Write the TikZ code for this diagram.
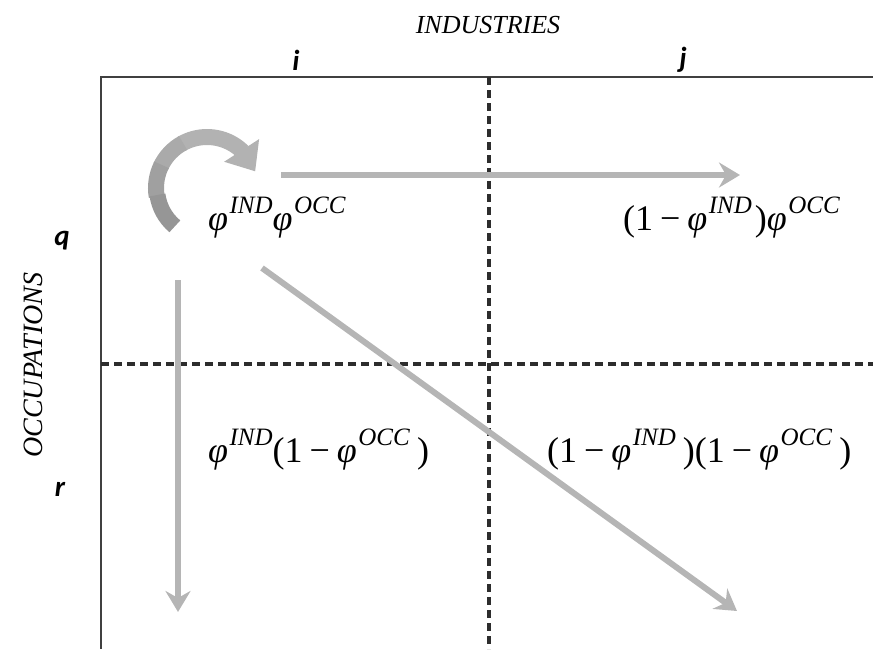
\documentclass[tikz,border=0pt]{standalone}
\usepackage{fontspec}
\setmainfont{Liberation Serif}
\newfontfamily\labfont{Carlito}
\usetikzlibrary{arrows.meta,bending,calc}
\definecolor{arrowgray}{RGB}{181,181,181}
\definecolor{curveA}{RGB}{150,150,150}
\definecolor{curveB}{RGB}{160,160,160}
\definecolor{curveC}{RGB}{170,170,170}
\definecolor{curveD}{RGB}{178,178,178}
\definecolor{linegray}{RGB}{64,64,64}
\definecolor{dashgray}{RGB}{45,45,45}
\newcommand\phsup[1]{\textit{φ}\kern1.5pt\raisebox{17pt}{\fontsize{25}{27}\selectfont\textit{#1}}}
\newcommand\minusx{\hspace{7pt}−\hspace{7pt}}
\begin{document}
\begin{tikzpicture}[x=1pt,y=-1pt,
  frame/.style={draw=linegray,line width=2.2pt},
  divider/.style={draw=dashgray,line width=3.4pt,dash pattern=on 8pt off 5pt},
  flow/.style={draw=arrowgray,line width=6pt,-{Stealth[length=21pt,width=25pt,inset=7pt]}},
  curveseg/.style={line width=16pt},
  formula/.style={inner sep=0pt,anchor=base west,font=\fontsize{36}{42}\selectfont},
  axis/.style={inner sep=0pt,font=\fontsize{26}{30}\selectfont\itshape},
  idx/.style={inner sep=0pt,font=\labfont\bfseries\itshape\fontsize{29}{32}\selectfont}]
\useasboundingbox (0,0) rectangle (873,649);
% frame
\draw[frame] (873,77) -- (101,77) -- (101,649);
\draw[divider] (489,77) -- (489,649);
\draw[divider] (101,364) -- (873,364);
% axis labels
\node[axis] (ind) at (488,25) {INDUSTRIES};
\node[axis,rotate=90,font=\fontsize{28}{32}\selectfont\itshape] (occ) at (33,365) {OCCUPATIONS};
\node[idx] (li) at (296,60) {i};
\node[idx] (lj) at (683,60) {j};
\node[idx] (lq) at (62,241) {q};
\node[idx] (lr) at (60,489) {r};
% formulas
\node[formula] (f1) at (208,230) {\phsup{IND}\phsup{OCC}};
\node[formula] (f2) at (623,230) {(1\minusx\phsup{IND}\hspace{3pt})\phsup{OCC}};
\node[formula] (f3) at (208,462) {\phsup{IND}(1\minusx\phsup{OCC}\hspace{7pt})};
\node[formula] (f4) at (547,462) {(1\minusx\phsup{IND}\hspace{7pt})(1\minusx\phsup{OCC}\hspace{7pt})};
% arrow end points
\coordinate (hs) at (281,175);
\coordinate (he) at (740,175);
\coordinate (vs) at (178,280);
\coordinate (ve) at (178,612);
\coordinate (ds) at (262,268);
\coordinate (de) at (737,611);
\coordinate (cc) at (207,188);
\draw[flow] (hs) -- (he);
\draw[flow] (vs) -- (ve);
\draw[flow] (ds) -- (de);
% curved arrow
\draw[draw=curveD,curveseg,-{Triangle[length=25pt,width=40pt,flex]}]
  ($(cc)+(240:51)$) arc[start angle=240,end angle=341,radius=51];
\draw[draw=curveC,curveseg] ($(cc)+(205:51)$) arc[start angle=205,end angle=242,radius=51];
\draw[draw=curveB,curveseg] ($(cc)+(170:51)$) arc[start angle=170,end angle=207,radius=51];
\draw[draw=curveA,curveseg] ($(cc)+(130:50)$) arc[start angle=130,end angle=172,radius=50];
\end{tikzpicture}
\end{document}
